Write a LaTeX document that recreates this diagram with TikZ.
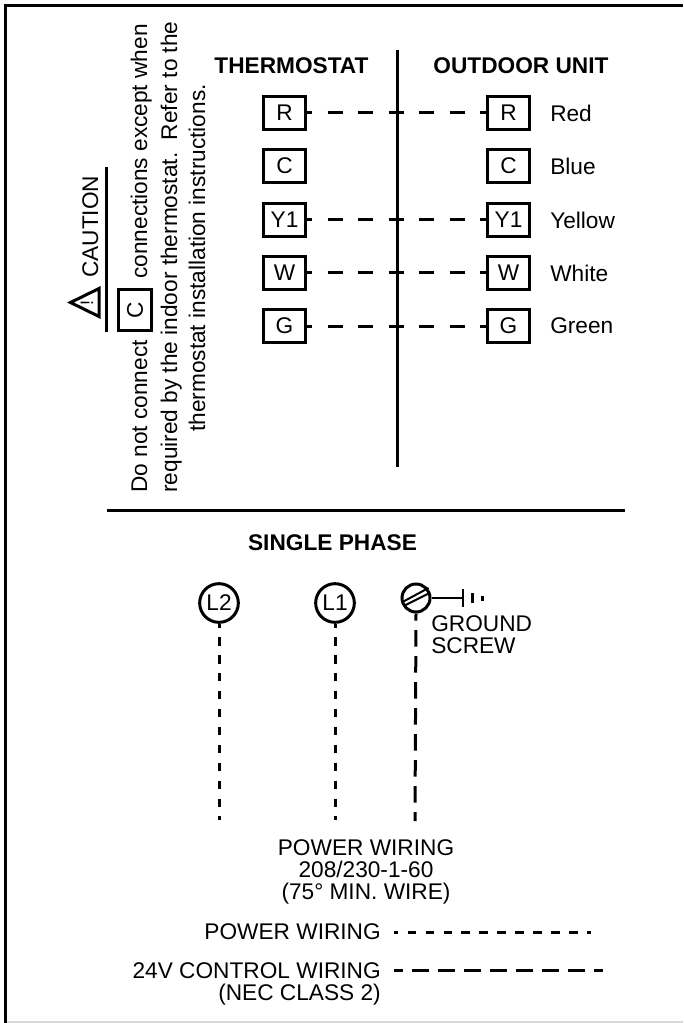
\documentclass[tikz,border=0pt]{standalone}
\usepackage{fontspec}
\setmainfont{Liberation Sans}
\usetikzlibrary{calc}
\tikzset{
 px/.style={x=0.75pt,y=-0.75pt},
 term/.style={draw=black,line width=2.25pt,minimum width=31pt,minimum height=25pt,inner sep=0pt,font=\fontsize{17pt}{19pt}\selectfont},
 lab/.style={inner sep=0pt,font=\fontsize{17pt}{16.2pt}\selectfont},
 head/.style={inner sep=0pt,font=\fontsize{17pt}{19pt}\selectfont\bfseries},
 rlab/.style={inner sep=0pt,font=\fontsize{17pt}{19pt}\selectfont,rotate=90,anchor=base west},
 ctl/.style={line width=2.25pt,dash pattern=on 11.25pt off 11.6pt,dash phase=7.1pt},
 pwr/.style={line width=2.25pt,dash pattern=on 6.2pt off 7.23pt,dash phase=3.3pt},
 gnd/.style={line width=2.25pt,dash pattern=on 12.5pt off 7pt,dash phase=7.1pt},
 lpwr/.style={line width=2.25pt,dash pattern=on 6.5pt off 6.93pt,dash phase=3.15pt},
 lctl/.style={line width=2.25pt,dash pattern=on 12.9pt off 6.6pt,dash phase=6.2pt},
 solid1/.style={line width=2.25pt},
 circ/.style={circle,draw=black,line width=2.25pt,minimum size=29pt,inner sep=0pt,font=\fontsize{17pt}{19pt}\selectfont}
}
\begin{document}
\begin{tikzpicture}[px]
\useasboundingbox (0,0) rectangle (683,1023);
\draw[line width=2.25pt] (5.5,1023) -- (5.5,6) -- (683,6);
\draw[line width=1pt,black!15] (7,1022) -- (683,1022);
% caution
\coordinate (t1) at (99,288.5);
\coordinate (t2) at (99,316.5);
\coordinate (t3) at (70.5,302.5);
\draw[line width=2.25pt,line join=miter] (t1) -- (t2) -- (t3) -- cycle;
\node[inner sep=0pt,rotate=90,font=\fontsize{13.5pt}{14pt}\selectfont] (ex) at (87,302.5) {!};
\node[rlab] (cau) at (98,278) {CAUTION};
\coordinate (u1) at (106,167);
\coordinate (u2) at (106,332);
\draw[solid1] (u1) -- (u2);
\node[rlab] (c1a) at (147,493) {Do not connect};
\node[rotate=90,draw=black,line width=2.25pt,minimum width=30.75pt,minimum height=24.75pt,inner sep=0pt,font=\fontsize{17pt}{19pt}\selectfont] (cbox) at (135,310) {C};
\node[rlab] (c1b) at (147,279) {connections except when};
\node[rlab] (c2) at (177,493) {required by the indoor thermostat.\ \ Refer to the};
\node[rlab,anchor=base] (c3) at (205,258) {thermostat installation instructions.};
% headers
\node[head] (th) at (291.5,66) {THERMOSTAT};
\node[head] (ou) at (521,66) {OUTDOOR UNIT};
\coordinate (vt) at (397,50);
\coordinate (vb) at (397,467);
\draw[solid1] (vt) -- (vb);
\foreach \n/\t/\y/\c in {r/R/113/Red,c/C/166/Blue,y/Y1/220/Yellow,w/W/273/White,g/G/326/Green}{
 \node[term] (a\n) at (284.5,\y) {\t};
 \node[term] (b\n) at (508.5,\y) {\t};
 \node[lab,anchor=west] (l\n) at (550,\y) {\c};
}
\foreach \n in {r,y,w,g}{
 \draw[ctl] (a\n.east) -- (b\n.west);
}
% divider
\coordinate (h1) at (107,510);
\coordinate (h2) at (625,510);
\draw[solid1] (h1) -- (h2);
\node[head] (sp) at (332.5,543) {SINGLE PHASE};
% power
\node[circ] (l2) at (219,603) {L2};
\node[circ] (l1) at (335,603) {L1};
\node[circle,draw=black,line width=2.25pt,minimum size=21pt,inner sep=0pt] (gs) at (416,598) {};
\draw[line width=1.5pt] ($(gs)+(-13.5,4)$) -- ($(gs)+(12.5,-10)$);
\draw[line width=1.5pt] ($(gs)+(-12.5,8)$) -- ($(gs)+(13.5,-5)$);
\coordinate (g1) at (463,598);
\draw[line width=1.5pt] (gs.east) -- (g1);
\coordinate (g1a) at (463,589);
\coordinate (g1b) at (463,607);
\coordinate (g2a) at (472,593);
\coordinate (g2b) at (472,603);
\coordinate (g3a) at (482,596);
\coordinate (g3b) at (482,601);
\draw[line width=1.5pt] (g1a) -- (g1b);
\draw[solid1] (g2a) -- (g2b);
\draw[solid1] (g3a) -- (g3b);
\node[lab,align=left,anchor=base west] (gl) at (431,653) {GROUND\\SCREW};
\coordinate (e2) at (219,820);
\coordinate (e1) at (335,820);
\coordinate (e3) at (415,821);
\draw[pwr] (l2.south) -- (e2);
\draw[pwr] (l1.south) -- (e1);
\draw[gnd] (gs.south) -- (e3);
\node[lab,align=center] (pw) at (366,872) {POWER WIRING\\208/230-1-60\\(75° MIN. WIRE)};
\node[lab,anchor=east] (pl) at (381,932) {POWER WIRING};
\coordinate (p1) at (394,932);
\coordinate (p2) at (591,932);
\draw[lpwr] (p1) -- (p2);
\node[lab,align=right,anchor=east] (cl) at (381,984) {24V CONTROL WIRING\\(NEC CLASS 2)};
\coordinate (c1) at (394,970);
\coordinate (c2) at (602.5,970);
\draw[lctl] (c1) -- (c2);
\end{tikzpicture}
\end{document}
